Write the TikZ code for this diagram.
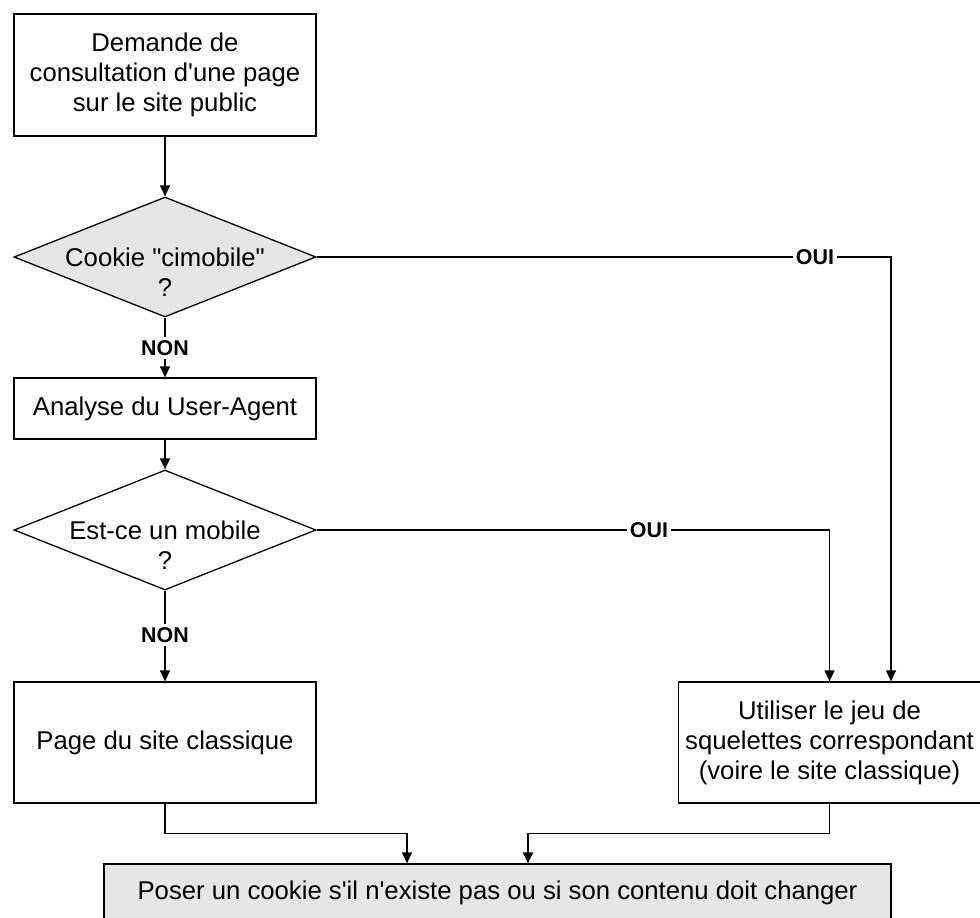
\documentclass[tikz,border=0pt]{standalone}
\usepackage{fontspec}
\setmainfont{Liberation Sans}
\usetikzlibrary{shapes.geometric,arrows.meta}
\definecolor{boxgray}{RGB}{230,230,230}
\newcommand{\aq}{\textquotesingle}
\newcommand{\dq}{\textquotedbl}
\begin{document}
\begin{tikzpicture}[x=0.5pt,y=-0.5pt,
  every node/.style={font=\fontsize{12.85}{15}\selectfont, line width=0.65pt},
  procbox/.style={draw, rectangle, inner sep=0pt, align=center, minimum width=151pt},
  decision/.style={draw, diamond, inner sep=0pt, minimum width=151pt, minimum height=60pt},
  decisiontext/.style={align=center, inner sep=0pt},
  flow/.style={line width=0.65pt, -{Triangle[length=5.5pt,width=5pt]}},
  answer/.style={fill=white, inner sep=1.5pt, font=\bfseries\fontsize{10.7}{12}\selectfont}
]
\useasboundingbox (0,0) rectangle (980,917);
\clip (0,0) rectangle (980,917);
\fill[white] (0,0) rectangle (980,917);

% process boxes
\node[procbox, minimum height=61pt] (b1) at (165,75)
  {Demande de\\consultation d\aq une page\\sur le site public};
\node[procbox, minimum height=30.5pt] (b2) at (165,408.5) {Analyse du User-Agent};
\node[procbox, minimum height=60.5pt] (b3) at (165,742.5) {Page du site classique};
\node[procbox, minimum height=60.5pt] (b4) at (829.5,742.5)
  {Utiliser le jeu de\\squelettes correspondant\\(voire le site classique)};
\node[procbox, fill=boxgray, minimum width=393.5pt, minimum height=29pt] (bb) at (497.5,893)
  {Poser un cookie s\aq il n\aq existe pas ou si son contenu doit changer};

% decisions
\node[decision, fill=boxgray] (d1) at (165,257) {};
\node[decisiontext] (d1t) at (165,272) {Cookie \dq cimobile\dq\\?};
\node[decision] (d2) at (165,530) {};
\node[decisiontext] (d2t) at (165,545) {Est-ce un mobile\\?};

% connectors
\draw[flow] (b1.south) -- (d1.north);
\draw[flow] (d1.south) -- (b2.north);
\draw[flow] (b2.south) -- (d2.north);
\draw[flow] (d2.south) -- (b3.north);
\draw[flow] (d1.east) -| ([xshift=30.75pt]b4.north);
\draw[flow] (d2.east) -| (b4.north);
\draw[flow] (b3.south) -- ++(0,30) -| ([xshift=-45.25pt]bb.north);
\draw[flow] (b4.south) -- ++(0,30) -| ([xshift=15.25pt]bb.north);

% answer labels
\node[answer] (oui1) at (815,257) {OUI};
\node[answer] (oui2) at (649,530) {OUI};
\node[answer] (non1) at (165,348) {NON};
\node[answer] (non2) at (165,635) {NON};
\end{tikzpicture}
\end{document}
